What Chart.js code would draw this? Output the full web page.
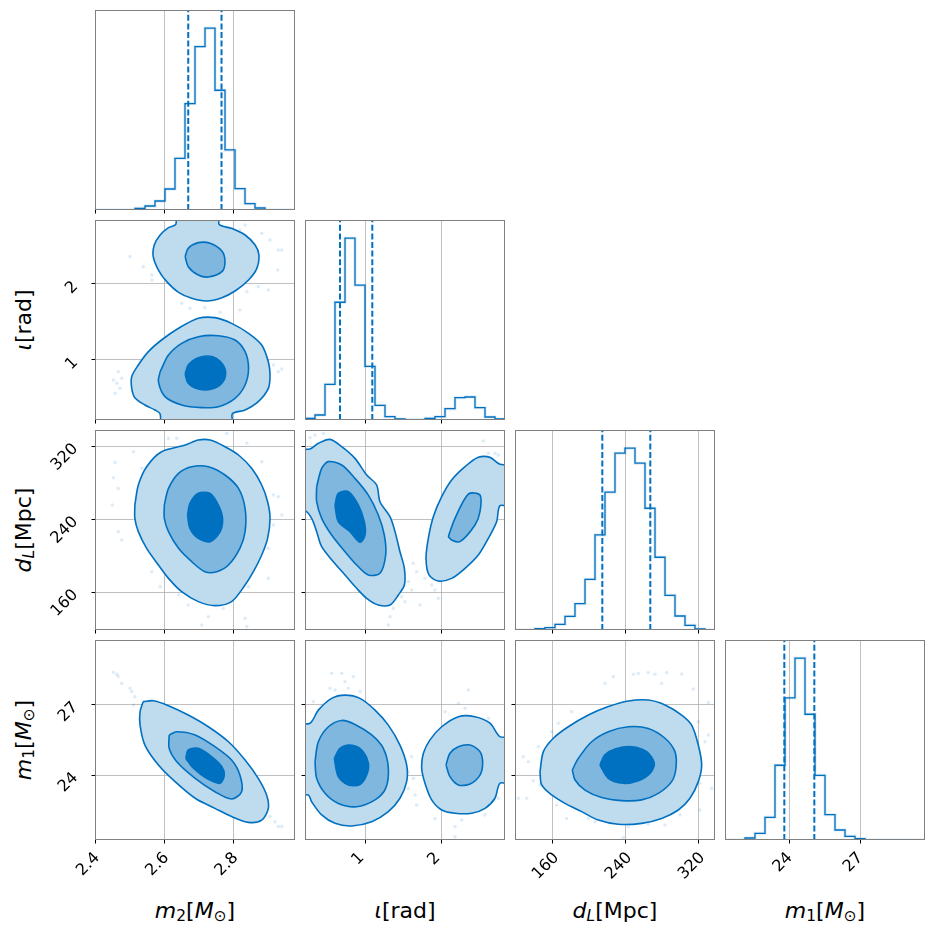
<!DOCTYPE html>
<html>
<head>
<meta charset="utf-8">
<script src="https://cdn.jsdelivr.net/npm/chart.js@4.4.1/dist/chart.umd.min.js"></script>
<style>
  body { margin: 0; background: #fff; }
  #fig { position: relative; width: 934px; height: 934px; overflow: hidden; }
  #fig canvas { position: absolute; }
  .lab { position: absolute; font-family: "DejaVu Sans"; font-size: 22px; color: #000; white-space: nowrap;
         transform: translate(-50%, -50%); }
  .lab.y { transform: translate(-50%, -50%) rotate(-90deg); }
  .lab sub { font-size: 70%; vertical-align: -0.25em; line-height: 0; }
</style>
</head>
<body>
<div id="fig">
  <div class="lab" style="left:195px;top:910px"><i>m</i><sub>2</sub>[<i>M</i><sub>⊙</sub>]</div>
  <div class="lab" style="left:405px;top:910px"><i>ι</i>[rad]</div>
  <div class="lab" style="left:615px;top:910px"><i>d</i><sub><i>L</i></sub>[Mpc]</div>
  <div class="lab" style="left:825px;top:910px"><i>m</i><sub>1</sub>[<i>M</i><sub>⊙</sub>]</div>
  <div class="lab y" style="left:23px;top:320px"><i>ι</i>[rad]</div>
  <div class="lab y" style="left:23px;top:530px"><i>d</i><sub><i>L</i></sub>[Mpc]</div>
  <div class="lab y" style="left:23px;top:740px"><i>m</i><sub>1</sub>[<i>M</i><sub>⊙</sub>]</div>
</div>
<script>
// axis ranges and ticks
const m2Range = [2.4, 2.977];
const iotaRange = [0.2105, 2.842];
const dLRange = [118.8, 338.0];
const m1Range = [21.24, 29.77];

const m2Ticks = [2.4, 2.6, 2.8];
const iotaTicks = [1, 2];
const dLTicks = [160, 240, 320];
const m1Ticks = [24, 27];

const m2TickLabels = ['2.4', '2.6', '2.8'];
const iotaTickLabels = ['1', '2'];
const dLTickLabels = ['160', '240', '320'];
const m1TickLabels = ['24', '27'];

// 1D histograms (20 bins over the axis range)
const m2Counts = [0, 0, 0, 0, 5, 12, 27, 63, 155, 319, 490, 545, 359, 180, 64, 19, 6, 0, 0, 0];
const iotaCounts = [5, 15, 107, 353, 545, 404, 161, 44, 10, 3, 1, 1, 5, 10, 34, 67, 69, 37, 9, 3];
const dLCounts = [0, 0, 4, 7, 17, 41, 79, 152, 285, 413, 530, 545, 500, 365, 218, 104, 42, 14, 3, 0];
const m1Counts = [0, 0, 6, 20, 68, 224, 426, 545, 377, 194, 76, 30, 11, 4, 0, 0, 0, 0, 0, 0];

// quantile lines
const m2Quant = [2.669, 2.765];
const iotaQuant = [0.671, 1.096];
const dLQuant = [214.5, 267.1];
const m1Quant = [23.77, 25.05];

// contours: m2 vs iota
const m2IotaHiOuter = [[2.633,2.952],[2.633,2.785],[2.612,2.741],[2.588,2.645],[2.571,2.513],[2.568,2.360],[2.583,2.184],[2.607,2.031],[2.641,1.890],[2.679,1.811],[2.722,1.776],[2.766,1.820],[2.804,1.908],[2.843,2.053],[2.867,2.206],[2.873,2.382],[2.862,2.513],[2.833,2.645],[2.794,2.732],[2.758,2.785],[2.758,2.952]];
const m2IotaHiMid = [[2.660,2.360],[2.669,2.469],[2.698,2.544],[2.732,2.535],[2.766,2.434],[2.775,2.294],[2.766,2.162],[2.727,2.092],[2.698,2.118],[2.669,2.228]];
const m2IotaLoOuter = [[2.588,0.101],[2.588,0.290],[2.573,0.342],[2.544,0.408],[2.515,0.504],[2.506,0.627],[2.506,0.781],[2.525,0.934],[2.554,1.110],[2.592,1.263],[2.641,1.417],[2.698,1.548],[2.746,1.557],[2.794,1.482],[2.843,1.351],[2.881,1.197],[2.900,0.978],[2.905,0.803],[2.900,0.627],[2.871,0.452],[2.833,0.342],[2.796,0.290],[2.796,0.101]];
const m2IotaLoMid = [[2.588,0.846],[2.612,1.066],[2.650,1.219],[2.698,1.307],[2.756,1.320],[2.804,1.263],[2.833,1.110],[2.843,0.890],[2.833,0.671],[2.804,0.496],[2.756,0.386],[2.708,0.373],[2.650,0.408],[2.602,0.518],[2.583,0.715]];
const m2IotaLoIn = [[2.660,0.811],[2.669,0.934],[2.698,1.031],[2.737,1.044],[2.766,0.956],[2.777,0.825],[2.766,0.693],[2.737,0.618],[2.698,0.618],[2.669,0.693]];
const m2IotaDots = [[2.467,0.846],[2.453,0.737],[2.477,0.759],[2.463,0.693],[2.472,0.627],[2.458,0.561],[2.915,0.934],[2.929,0.846],[2.939,0.882],[2.900,0.627],[2.501,2.360],[2.539,2.228],[2.564,2.118],[2.564,2.053],[2.818,2.711],[2.833,2.776],[2.881,2.667],[2.905,2.579],[2.929,2.447],[2.939,2.447],[2.927,2.184],[2.900,1.921],[2.871,1.965],[2.838,1.899],[2.650,1.746],[2.674,1.680],[2.717,1.689],[2.761,1.627],[2.818,1.658]];

// contours: m2 vs dL
const m2DlOuter = [[2.515,255.8],[2.525,277.7],[2.549,297.8],[2.592,314.2],[2.660,321.5],[2.698,327.0],[2.732,327.0],[2.775,319.7],[2.814,310.6],[2.852,296.0],[2.881,277.7],[2.898,259.4],[2.905,241.2],[2.898,219.3],[2.881,201.0],[2.857,182.7],[2.833,168.1],[2.794,149.9],[2.746,145.5],[2.698,149.9],[2.650,160.8],[2.612,175.4],[2.583,190.0],[2.549,208.3],[2.525,226.6],[2.515,241.2]];
const m2DlMid = [[2.600,255.8],[2.612,274.0],[2.641,290.5],[2.679,297.8],[2.727,297.8],[2.775,288.7],[2.814,274.0],[2.833,252.1],[2.833,226.6],[2.818,208.3],[2.785,190.0],[2.751,182.7],[2.717,182.7],[2.679,193.7],[2.641,208.3],[2.612,226.6],[2.600,241.2]];
const m2DlIn = [[2.667,244.8],[2.674,257.6],[2.698,268.6],[2.732,268.6],[2.756,255.8],[2.768,241.2],[2.761,226.6],[2.732,215.6],[2.698,219.3],[2.674,230.2]];
const m2DlDots = [[2.458,302.5],[2.511,314.2],[2.453,285.7],[2.467,274.0],[2.450,255.8],[2.467,226.6],[2.477,217.4],[2.535,296.0],[2.612,328.8],[2.636,328.8],[2.780,334.3],[2.838,323.4],[2.881,303.3],[2.915,266.7],[2.929,264.9],[2.939,244.8],[2.915,233.9],[2.900,208.3],[2.900,175.4],[2.843,166.3],[2.833,131.6],[2.838,122.5],[2.770,142.5],[2.727,133.4],[2.708,124.3],[2.669,146.2],[2.641,157.2],[2.588,166.3],[2.564,182.7]];

// contours: iota vs dL
const iotaDlLeftOuter = [[0.079,317.2],[0.276,317.2],[0.386,323.4],[0.539,327.7],[0.693,319.7],[0.868,306.9],[1.022,288.7],[1.153,277.7],[1.197,259.4],[1.329,243.0],[1.395,226.6],[1.460,204.6],[1.518,186.4],[1.518,168.1],[1.439,157.2],[1.329,146.2],[1.175,146.2],[1.022,153.5],[0.890,164.5],[0.737,179.1],[0.583,193.7],[0.430,210.1],[0.364,226.6],[0.298,241.2],[0.2105,249.6],[0.079,249.6]];
const iotaDlLeftMid = [[0.364,275.9],[0.430,296.0],[0.518,303.3],[0.693,299.6],[0.868,285.0],[1.044,266.7],[1.175,244.8],[1.254,222.9],[1.272,201.0],[1.197,180.9],[1.044,179.1],[0.890,190.0],[0.737,204.6],[0.561,222.9],[0.430,241.2],[0.364,259.4]];
const iotaDlLeftIn = [[0.605,255.8],[0.649,268.6],[0.781,270.4],[0.912,255.8],[0.991,237.5],[1.000,222.9],[0.934,214.9],[0.803,226.6],[0.649,237.5]];
const iotaDlRightOuter = [[2.930,300.4],[2.776,300.4],[2.645,308.0],[2.491,308.0],[2.316,297.8],[2.140,283.2],[2.009,264.9],[1.899,243.0],[1.833,219.3],[1.803,197.3],[1.842,179.1],[1.965,172.5],[2.140,175.4],[2.316,186.4],[2.491,201.0],[2.623,219.3],[2.732,237.5],[2.776,255.1],[2.930,255.1]];
const iotaDlRightMid = [[2.096,221.1],[2.184,241.2],[2.360,267.8],[2.513,266.7],[2.513,248.5],[2.447,233.9],[2.250,215.6],[2.140,217.4]];
const iotaDlDots = [[0.276,329.6],[0.342,332.5],[0.452,334.3],[1.636,191.9],[1.680,182.7],[1.570,171.8],[1.614,162.6],[1.482,155.3],[1.526,149.8],[1.373,142.5],[1.329,133.4],[1.307,124.3],[1.724,146.2],[1.789,175.4],[1.877,168.1],[1.921,162.6],[1.965,153.5],[2.557,325.9],[2.623,312.4],[2.710,312.4],[2.754,310.6]];

// contours: m2 vs m1
const m2M1Outer = [[2.539,27.14],[2.568,27.18],[2.612,26.97],[2.669,26.57],[2.727,26.07],[2.785,25.43],[2.833,24.65],[2.871,23.87],[2.895,23.16],[2.900,22.59],[2.881,22.09],[2.843,21.99],[2.794,22.24],[2.746,22.59],[2.689,23.02],[2.631,23.73],[2.583,24.44],[2.544,25.29],[2.530,26.14],[2.530,26.71]];
const m2M1Mid = [[2.614,25.72],[2.636,25.86],[2.689,25.72],[2.746,25.22],[2.794,24.65],[2.818,24.01],[2.823,23.30],[2.794,22.99],[2.746,23.30],[2.689,23.87],[2.636,24.58],[2.614,25.15]];
const m2M1In = [[2.662,24.72],[2.669,25.08],[2.698,25.15],[2.737,24.79],[2.766,24.37],[2.773,24.01],[2.761,23.66],[2.722,23.87],[2.684,24.30]];
const m2M1Dots = [[2.453,28.39],[2.463,28.31],[2.467,28.21],[2.477,27.92],[2.501,27.71],[2.506,27.57],[2.515,27.35],[2.511,27.00],[2.905,22.24],[2.919,22.02],[2.929,21.81],[2.939,21.81]];

// contours: iota vs m1
const iotaM1LeftOuter = [[0.079,26.22],[0.276,26.22],[0.386,26.78],[0.561,27.28],[0.737,27.42],[0.934,27.28],[1.132,26.78],[1.307,26.14],[1.460,25.29],[1.548,24.44],[1.548,23.73],[1.460,23.02],[1.307,22.45],[1.088,22.02],[0.825,21.84],[0.605,21.95],[0.430,22.31],[0.298,22.87],[0.254,23.16],[0.079,23.16]];
const iotaM1LeftMid = [[0.342,24.58],[0.386,25.43],[0.518,26.07],[0.693,26.34],[0.868,26.17],[1.088,25.72],[1.241,25.15],[1.307,24.30],[1.272,23.44],[1.132,22.95],[0.890,22.66],[0.649,22.80],[0.474,23.23],[0.364,23.87]];
const iotaM1LeftIn = [[0.596,24.72],[0.671,25.15],[0.803,25.29],[0.956,25.08],[1.044,24.51],[1.022,24.01],[0.934,23.61],[0.781,23.59],[0.649,23.94]];
const iotaM1RightOuter = [[2.930,25.65],[2.776,25.65],[2.645,26.22],[2.447,26.50],[2.228,26.50],[2.009,26.07],[1.855,25.51],[1.768,24.94],[1.746,24.30],[1.789,23.66],[1.877,22.95],[2.009,22.52],[2.184,22.38],[2.404,22.38],[2.579,22.59],[2.710,23.02],[2.776,23.66],[2.930,23.66]];
const iotaM1RightMid = [[2.066,24.44],[2.118,24.94],[2.228,25.22],[2.382,25.29],[2.513,25.01],[2.548,24.51],[2.513,24.01],[2.382,23.63],[2.228,23.59],[2.118,23.94]];
const iotaM1Dots = [[0.561,28.35],[0.693,28.35],[0.846,28.21],[0.737,27.99],[0.539,27.71],[0.605,27.64],[0.781,27.71],[0.934,27.57],[0.320,27.14],[2.053,26.71],[2.228,27.07],[2.360,27.64],[2.316,26.86],[2.623,26.43],[1.614,24.79],[1.570,24.15],[1.636,23.87],[1.570,23.44],[1.658,23.16],[1.680,22.73],[2.623,23.09],[2.754,23.02],[2.579,22.31],[2.272,22.09],[2.184,21.81],[1.921,22.16],[2.184,21.38]];

// contours: dL vs m1
const dlM1Outer = [[146.2,24.15],[149.9,25.01],[160.8,25.58],[177.2,26.07],[199.2,26.57],[221.1,26.93],[243.0,27.17],[264.9,27.21],[283.2,27.00],[301.5,26.57],[312.4,26.14],[319.7,25.29],[323.4,24.44],[319.7,23.73],[310.6,23.02],[297.8,22.52],[279.5,22.16],[257.6,21.95],[232.0,21.91],[210.1,22.09],[191.9,22.45],[173.6,22.80],[159.0,23.16],[148.0,23.59]];
const dlM1Mid = [[181.6,24.23],[188.2,24.72],[202.8,25.43],[221.1,25.86],[243.0,26.07],[264.9,26.00],[283.2,25.58],[294.1,25.01],[295.2,24.30],[290.5,23.73],[275.9,23.23],[257.6,22.95],[235.7,22.92],[213.8,23.05],[195.5,23.37],[184.6,23.80]];
const dlM1In = [[211.9,24.44],[217.4,24.87],[228.4,25.12],[246.7,25.22],[263.1,25.01],[271.5,24.51],[266.7,24.08],[254.0,23.77],[237.5,23.66],[221.1,23.87]];
const dlM1Dots = [[217.4,27.92],[226.6,28.21],[248.5,28.31],[254.0,28.35],[264.9,28.38],[272.2,28.31],[285.0,28.38],[301.5,28.32],[279.5,27.92],[314.2,27.68],[330.7,27.10],[319.7,26.29],[330.7,25.72],[327.0,25.43],[334.3,23.44],[321.5,23.66],[321.5,22.52],[299.6,22.31],[283.2,21.88],[264.9,21.92],[243.0,21.81],[237.5,21.34],[206.5,22.02],[199.2,22.16],[175.4,22.16],[164.5,22.73],[122.5,23.02],[131.6,23.02],[138.9,23.77],[146.2,23.59],[133.4,24.58],[127.9,24.79],[144.4,25.22],[159.0,25.86],[180.9,26.71],[166.3,26.22]];

// layout / style
const fig = document.getElementById('fig');
const LM = 95, TM = 40, RM = 30, BM = 60, SIZE = 200, STEP = 210;
const BLUE = '#0070c0';
const LEVEL_FILL = ['#bfdbee', '#80b7de', '#0070c0'];
const DOT = 'rgba(0,112,192,0.13)';
const TICK_FONT = { family: 'DejaVu Sans', size: 16 };
const GRID = { color: '#b0b0b0', lineWidth: 0.8, tickColor: '#000', tickLength: 3.5, tickWidth: 1 };

const axes = [
  { range: m2Range, ticks: m2Ticks, labels: m2TickLabels },
  { range: iotaRange, ticks: iotaTicks, labels: iotaTickLabels },
  { range: dLRange, ticks: dLTicks, labels: dLTickLabels },
  { range: m1Range, ticks: m1Ticks, labels: m1TickLabels },
];
const xLabelShift = [2.2, -3.2, 4.0, 0.4]; // centre rotated labels on their tick

const toXY = pts => pts.map(([x, y]) => ({ x, y }));

function contour(pts, level) {
  return {
    data: toXY([...pts, pts[0]]), showLine: true, fill: 'shape',
    backgroundColor: LEVEL_FILL[level], borderColor: BLUE, borderWidth: 1.6,
    pointRadius: 0, tension: 0.3, order: 5 - level
  };
}

function dots(pts) {
  return {
    data: toXY(pts), showLine: false, pointRadius: 1.8,
    backgroundColor: DOT, pointBackgroundColor: DOT, pointBorderWidth: 0, order: 9
  };
}

function histSets(counts, range, quant) {
  const w = (range[1] - range[0]) / counts.length;
  const pts = counts.map((c, i) => ({ x: range[0] + i * w, y: c }));
  pts.push({ x: range[1], y: counts[counts.length - 1] });
  const top = 1.1 * Math.max(...counts);
  const sets = [
    { data: pts, showLine: true, stepped: 'before', borderColor: 'rgba(0,112,192,0.16)', borderWidth: 3, pointRadius: 0, order: 4 },
    { data: pts, showLine: true, stepped: 'before', borderColor: BLUE, borderWidth: 1.3, pointRadius: 0, order: 3 },
  ];
  quant.forEach(q => sets.push({
    data: [{ x: q, y: 0 }, { x: q, y: top }], showLine: true, borderColor: BLUE,
    borderWidth: 2, borderDash: [6, 2.6], pointRadius: 0, order: 1
  }));
  return { sets, top };
}

function xScale(col, show) {
  const a = axes[col];
  return {
    type: 'linear', position: 'bottom', min: a.range[0], max: a.range[1],
    afterBuildTicks: s => { s.ticks = a.ticks.map(v => ({ value: v })); },
    afterFit: s => { s.height = BM; },
    grid: GRID, border: { display: false },
    ticks: {
      display: show, autoSkip: false, minRotation: 45, maxRotation: 45, padding: 5,
      labelOffset: xLabelShift[col], color: '#000', font: TICK_FONT,
      callback: (v, i) => a.labels[i]
    }
  };
}

function yScale(row, show) {
  const a = axes[row];
  return {
    type: 'linear', min: a.range[0], max: a.range[1],
    afterBuildTicks: s => { s.ticks = a.ticks.map(v => ({ value: v })); },
    afterFit: s => { s.width = LM; },
    grid: GRID, border: { display: false },
    ticks: {
      display: show, autoSkip: false, minRotation: 45, maxRotation: 45, padding: 16,
      color: '#000', font: TICK_FONT, callback: (v, i) => a.labels[i]
    }
  };
}

function histY(top) {
  return {
    type: 'linear', min: 0, max: top,
    afterFit: s => { s.width = LM; },
    grid: { display: false }, border: { display: false }, ticks: { display: false }
  };
}

const frame = {
  id: 'frame',
  afterDraw(chart) {
    const { ctx, chartArea: a } = chart;
    ctx.save();
    ctx.strokeStyle = '#808080';
    ctx.lineWidth = 1;
    ctx.strokeRect(a.left + 0.5, a.top + 0.5, a.right - a.left - 1, a.bottom - a.top - 1);
    ctx.restore();
  }
};

function makePanel(row, col, datasets, yAxis) {
  const cv = document.createElement('canvas');
  cv.width = LM + SIZE + RM;
  cv.height = TM + SIZE + BM;
  cv.style.left = (STEP * col + 95 - LM) + 'px';
  cv.style.top = (STEP * row + 10 - TM) + 'px';
  fig.appendChild(cv);
  new Chart(cv, {
    type: 'scatter',
    data: { datasets },
    options: {
      responsive: false, animation: false, devicePixelRatio: 1, events: [],
      layout: { padding: { left: 0, top: TM, right: RM, bottom: 0 } },
      plugins: { legend: { display: false }, tooltip: { enabled: false } },
      scales: { x: xScale(col, row === 3), y: yAxis }
    },
    plugins: [frame]
  });
}

// diagonal histograms
const hists = [
  histSets(m2Counts, m2Range, m2Quant),
  histSets(iotaCounts, iotaRange, iotaQuant),
  histSets(dLCounts, dLRange, dLQuant),
  histSets(m1Counts, m1Range, m1Quant),
];
hists.forEach((h, i) => makePanel(i, i, h.sets, histY(h.top)));

// 2D panels
makePanel(1, 0, [dots(m2IotaDots), contour(m2IotaHiOuter, 0), contour(m2IotaLoOuter, 0),
  contour(m2IotaHiMid, 1), contour(m2IotaLoMid, 1), contour(m2IotaLoIn, 2)], yScale(1, true));
makePanel(2, 0, [dots(m2DlDots), contour(m2DlOuter, 0), contour(m2DlMid, 1), contour(m2DlIn, 2)], yScale(2, true));
makePanel(2, 1, [dots(iotaDlDots), contour(iotaDlLeftOuter, 0), contour(iotaDlRightOuter, 0),
  contour(iotaDlLeftMid, 1), contour(iotaDlRightMid, 1), contour(iotaDlLeftIn, 2)], yScale(2, false));
makePanel(3, 0, [dots(m2M1Dots), contour(m2M1Outer, 0), contour(m2M1Mid, 1), contour(m2M1In, 2)], yScale(3, true));
makePanel(3, 1, [dots(iotaM1Dots), contour(iotaM1LeftOuter, 0), contour(iotaM1RightOuter, 0),
  contour(iotaM1LeftMid, 1), contour(iotaM1RightMid, 1), contour(iotaM1LeftIn, 2)], yScale(3, false));
makePanel(3, 2, [dots(dlM1Dots), contour(dlM1Outer, 0), contour(dlM1Mid, 1), contour(dlM1In, 2)], yScale(3, false));
</script>
</body>
</html>
